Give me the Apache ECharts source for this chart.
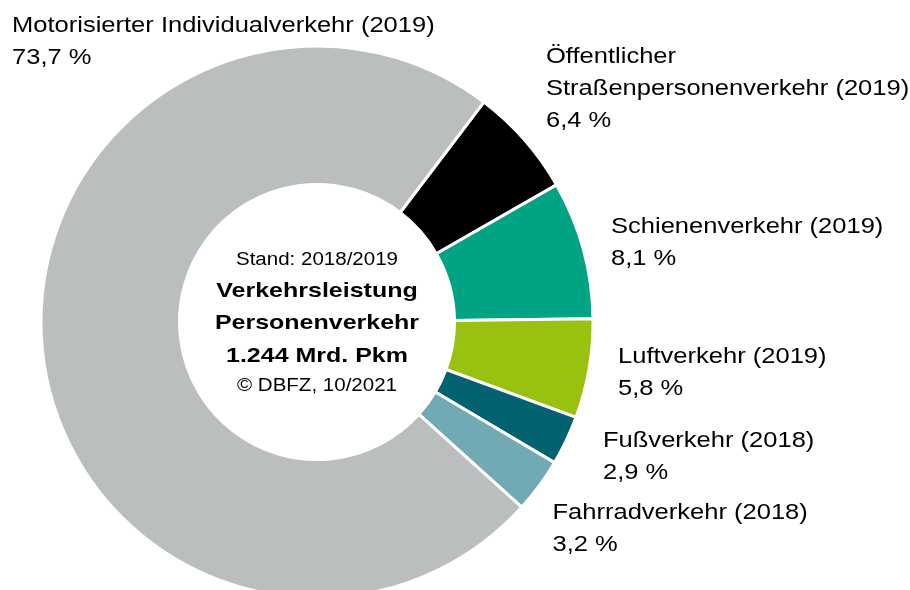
<!DOCTYPE html>
<html>
<head>
<meta charset="utf-8">
<script src="https://cdn.jsdelivr.net/npm/echarts@6/dist/echarts.min.js"></script>
<style>
html,body{margin:0;padding:0;background:#fff;}
#chart{width:910px;height:590px;}
</style>
</head>
<body>
<div id="chart"></div>
<script>
// ---- data ----
var categories = [
  'Öffentlicher\nStraßenpersonenverkehr (2019)',
  'Schienenverkehr (2019)',
  'Luftverkehr (2019)',
  'Fußverkehr (2018)',
  'Fahrradverkehr (2018)',
  'Motorisierter Individualverkehr (2019)'
];
var values = [6.4, 8.1, 5.8, 2.9, 3.2, 73.7];
var centerLines = ['Stand: 2018/2019', 'Verkehrsleistung', 'Personenverkehr', '1.244 Mrd. Pkm', '© DBFZ, 10/2021'];

// ---- styles / layout ----
var colors = ['#000000', '#00A382', '#98C110', '#02626F', '#71AAB4', '#BBBEBF'];
var FONT = '"Liberation Sans", Arial, Helvetica, sans-serif';
var SX = 1.16;       // horizontal text stretch seen in the reference
var LH = 32;         // label line height
// label anchor: left x, centre y of first line
var labelPos = [[546, 56.5], [611, 226.5], [618, 356.5], [603, 441], [552.5, 513], [12, 25.5]];
var centerY = [260.5, 291, 323.5, 356, 386];
var centerStyle = [
  {size: 18, weight: 'normal', sx: 1.14},
  {size: 21, weight: 'bold', sx: 1.19},
  {size: 21, weight: 'bold', sx: 1.19},
  {size: 21, weight: 'bold', sx: 1.19},
  {size: 18, weight: 'normal', sx: 1.14}
];

function fmt(v) { return v.toFixed(1).replace('.', ',') + ' %'; }

var graphics = [];
categories.forEach(function (c, i) {
  graphics.push({
    type: 'text',
    x: labelPos[i][0],
    y: labelPos[i][1] - LH / 2,
    scaleX: SX,
    silent: true,
    style: {
      text: c + '\n' + fmt(values[i]),
      font: 'normal 22px ' + FONT,
      fill: '#000',
      lineHeight: LH,
      textAlign: 'left',
      textVerticalAlign: 'top'
    }
  });
});
centerLines.forEach(function (t, i) {
  graphics.push({
    type: 'text',
    x: 317,
    y: centerY[i],
    scaleX: centerStyle[i].sx,
    silent: true,
    style: {
      text: t,
      font: centerStyle[i].weight + ' ' + centerStyle[i].size + 'px ' + FONT,
      fill: '#000',
      textAlign: 'center',
      textVerticalAlign: 'middle'
    }
  });
});

var chart = echarts.init(document.getElementById('chart'), null, {renderer: 'canvas'});
chart.setOption({
  animation: false,
  backgroundColor: '#ffffff',
  series: [{
    type: 'pie',
    center: [317, 322],
    radius: [137.5, 276],
    startAngle: 52.8,
    clockwise: true,
    avoidLabelOverlap: false,
    label: {show: false},
    labelLine: {show: false},
    emphasis: {disabled: true},
    itemStyle: {borderColor: '#ffffff', borderWidth: 3},
    data: categories.map(function (c, i) {
      return {name: c, value: values[i], itemStyle: {color: colors[i]}};
    })
  }],
  graphic: graphics
});
</script>
</body>
</html>
